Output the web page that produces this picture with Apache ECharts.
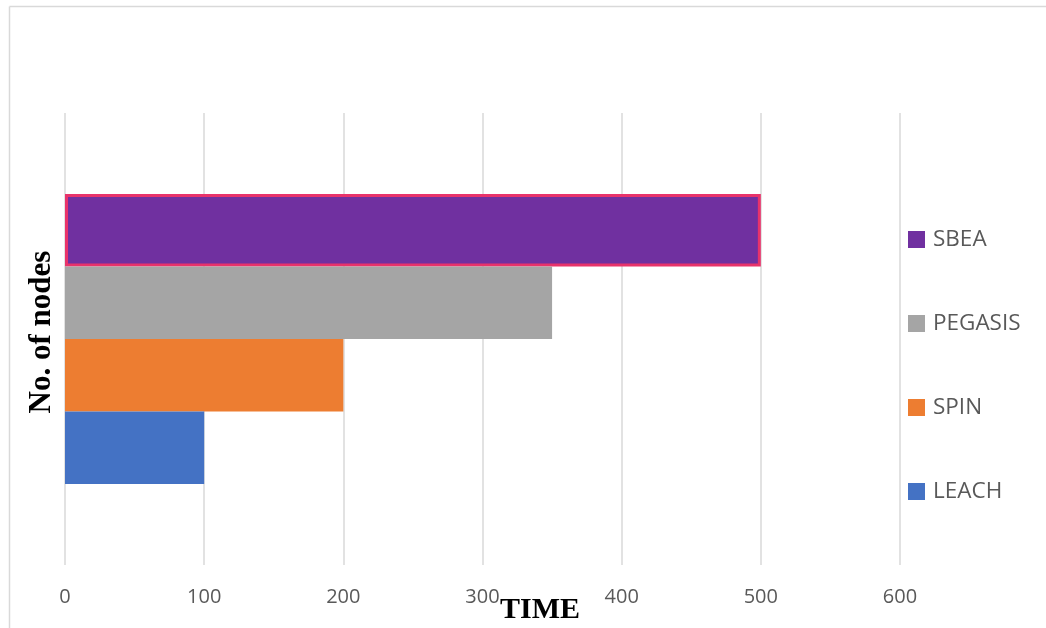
<!DOCTYPE html>
<html>
<head>
<meta charset="utf-8">
<script src="https://cdn.jsdelivr.net/npm/echarts@6/dist/echarts.min.js"></script>
<style>
html,body{margin:0;padding:0;background:#fff;}
#c{width:1046px;height:628px;}
</style>
</head>
<body>
<div id="c"></div>
<script>
const categories = ['Nodes'];
const seriesNames = ['SBEA', 'PEGASIS', 'SPIN', 'LEACH'];
const sbea = [500];
const pegasis = [350];
const spin = [200];
const leach = [100];
const xTicks = [0, 100, 200, 300, 400, 500, 600];
const colors = { SBEA: '#7030A0', PEGASIS: '#A5A5A5', SPIN: '#ED7D31', LEACH: '#4472C4' };
const values = { SBEA: sbea, PEGASIS: pegasis, SPIN: spin, LEACH: leach };

const chart = echarts.init(document.getElementById('c'), null, { renderer: 'canvas' });
const labelFont = '"Open Sans", "Noto Sans", sans-serif';

chart.setOption({
  animation: false,
  backgroundColor: '#ffffff',
  grid: { left: 65, right: 146, top: 113, bottom: 63, containLabel: false },
  xAxis: {
    type: 'value',
    min: xTicks[0],
    max: xTicks[xTicks.length - 1],
    interval: xTicks[1] - xTicks[0],
    axisLine: { show: false },
    axisTick: { show: false },
    axisLabel: { color: '#595959', fontSize: 20, fontFamily: labelFont, margin: 22 },
    splitLine: { show: true, lineStyle: { color: '#D9D9D9', width: 1.5 } }
  },
  yAxis: {
    type: 'category',
    data: categories,
    axisLine: { show: false },
    axisTick: { show: false },
    axisLabel: { show: false },
    splitLine: { show: false }
  },
  legend: {
    orient: 'vertical',
    left: 908,
    top: 228,
    padding: 0,
    itemWidth: 17,
    itemHeight: 17,
    itemGap: 61,
    icon: 'rect',
    itemStyle: { borderWidth: 0 },
    textStyle: { color: '#595959', fontSize: 22.5, fontFamily: labelFont, padding: [0, 0, 0, 3] },
    data: seriesNames
  },
  series: seriesNames.map(function (n) {
    return {
      name: n,
      type: 'bar',
      data: values[n],
      barWidth: 72.5,
      barGap: '0%',
      itemStyle: n === 'SBEA'
        ? { color: colors[n], borderColor: '#E8336B', borderWidth: 3 }
        : { color: colors[n] }
    };
  }),
  graphic: [
    { type: 'line', shape: { x1: 9.5, y1: 6.5, x2: 1046, y2: 6.5 }, style: { stroke: '#D9D9D9', lineWidth: 1.5 }, silent: true },
    { type: 'line', shape: { x1: 9.5, y1: 6.5, x2: 9.5, y2: 628 }, style: { stroke: '#D9D9D9', lineWidth: 1.5 }, silent: true },
    {
      type: 'text', x: 540, y: 610,
      style: { text: 'TIME', font: 'bold 30px "Liberation Serif", "Times New Roman", serif', fill: '#000', align: 'center', verticalAlign: 'middle' }
    },
    {
      type: 'text', x: 42, y: 332, rotation: Math.PI / 2,
      style: { text: 'No. of nodes', font: 'bold 31px "Liberation Serif", "Times New Roman", serif', fill: '#000', align: 'center', verticalAlign: 'middle' }
    }
  ]
});
</script>
</body>
</html>
